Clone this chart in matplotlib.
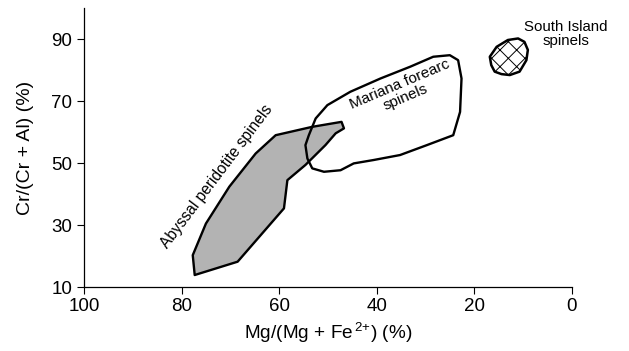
import matplotlib
matplotlib.use("Agg")
import matplotlib.pyplot as plt
from matplotlib.patches import Polygon

plt.rcParams['font.family'] = ['Liberation Sans', 'DejaVu Sans']
plt.rcParams['mathtext.default'] = 'regular'
plt.rcParams['hatch.linewidth'] = 0.7

# Field outlines: Mg# (x, %) and Cr# (y, %)
abyssal_x = [77.7, 77.3, 68.5, 59.0, 58.3, 54.6, 50.5, 48.4, 46.7, 47.2, 53.2, 60.7, 64.8, 70.2, 75.0]
abyssal_y = [20.3, 13.9, 18.2, 35.4, 44.5, 49.4, 55.8, 59.6, 61.2, 63.3, 61.7, 59.0, 53.1, 42.4, 30.5]

mariana_x = [53.9, 52.5, 50.1, 45.4, 39.2, 33.1, 28.4, 25.0, 23.3, 22.6, 22.9, 24.3, 29.7, 35.2,
             40.6, 44.7, 47.4, 50.8, 53.2, 54.2, 54.6]
mariana_y = [59.0, 64.4, 68.7, 73.0, 77.3, 81.1, 84.3, 84.8, 83.2, 77.3, 66.5, 59.0, 55.8, 52.6,
             51.0, 49.9, 47.7, 47.2, 48.3, 51.5, 55.8]

south_x = [16.8, 16.5, 15.8, 14.4, 12.7, 10.7, 9.3, 9.0, 9.7, 11.0, 13.1, 15.4]
south_y = [84.3, 81.6, 79.5, 78.7, 78.4, 79.5, 83.2, 86.5, 89.1, 90.2, 89.7, 87.5]

x_ticks = [100, 80, 60, 40, 20, 0]
y_ticks = [10, 30, 50, 70, 90]

fig = plt.figure(figsize=(6.29, 3.51), dpi=100)
ax = fig.add_axes([0.1335, 0.182, 0.7755, 0.795])

ax.add_patch(Polygon(list(zip(abyssal_x, abyssal_y)), closed=True,
                     facecolor='#b3b3b3', edgecolor='black', linewidth=1.7, joinstyle='round'))
ax.add_patch(Polygon(list(zip(mariana_x, mariana_y)), closed=True,
                     facecolor='none', edgecolor='black', linewidth=1.7, joinstyle='round'))
ax.add_patch(Polygon(list(zip(south_x, south_y)), closed=True,
                     facecolor='white', edgecolor='black', linewidth=1.8, hatch='xx',
                     joinstyle='round'))

ax.text(72.7, 45.8, 'Abyssal peridotite spinels', rotation=53, ha='center', va='center',
        rotation_mode='anchor', fontsize=11.2)
ax.text(34.7, 73.3, 'Mariana forearc\nspinels', rotation=23, ha='center', va='center',
        rotation_mode='anchor', fontsize=11, linespacing=1.0)
ax.text(1.2, 91.6, 'South Island\nspinels', ha='center', va='center', fontsize=10.8,
        linespacing=1.0)

ax.set_xlim(100, 0)
ax.set_ylim(10, 100)
ax.set_xticks(x_ticks)
ax.set_yticks(y_ticks)
ax.tick_params(axis='both', labelsize=13.5, direction='out', length=5, width=0.8, colors='black')
ax.tick_params(axis='x', pad=3)
for side in ('top', 'right'):
    ax.spines[side].set_visible(False)
for side in ('left', 'bottom'):
    ax.spines[side].set_linewidth(0.9)

ax.set_xlabel('Mg/(Mg + Fe$^{\\,2{+}}$) (%)', fontsize=13.7, labelpad=4)
ax.set_ylabel('Cr/(Cr + Al) (%)', fontsize=14, labelpad=12)

fig.savefig('out.png', dpi=100)
